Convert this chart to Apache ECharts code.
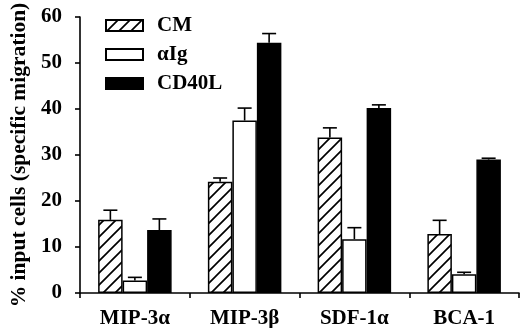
<!DOCTYPE html>
<html>
<head>
<meta charset="utf-8">
<script src="https://cdn.jsdelivr.net/npm/echarts@6/dist/echarts.min.js"></script>
<style>
  html, body { margin: 0; padding: 0; background: #fff; }
  #chart { width: 520px; height: 328px; }
</style>
</head>
<body>
<div id="chart"></div>
<script>
// categories and values
var categories = ['MIP-3α', 'MIP-3β', 'SDF-1α', 'BCA-1'];
var seriesNames = ['CM', 'αIg', 'CD40L'];
var cmValues = [15.9, 24.2, 33.8, 12.8];
var cmErrTop = [18.0, 25.0, 35.9, 15.8];
var igValues = [2.7, 37.5, 11.7, 4.1];
var igErrTop = [3.4, 40.2, 14.2, 4.5];
var cdValues = [13.7, 54.4, 40.2, 29.0];
var cdErrTop = [16.1, 56.4, 40.9, 29.3];
var yTicks = [0, 10, 20, 30, 40, 50, 60];

var FONT = '"Liberation Serif", "DejaVu Serif", serif';
var BAR_W = 24.5;

// diagonal hatch for CM
function makeHatch() {
  var s = 12;
  var c = document.createElement('canvas');
  c.width = s; c.height = s;
  var ctx = c.getContext('2d');
  ctx.fillStyle = '#fff';
  ctx.fillRect(0, 0, s, s);
  ctx.strokeStyle = '#000';
  ctx.lineWidth = 1.7;
  ctx.beginPath();
  ctx.moveTo(0, s); ctx.lineTo(s, 0);
  ctx.moveTo(-2, 2); ctx.lineTo(2, -2);
  ctx.moveTo(s - 2, s + 2); ctx.lineTo(s + 2, s - 2);
  ctx.stroke();
  return c;
}
var hatch = { image: makeHatch(), repeat: 'repeat' };

function errData(values, tops) {
  return values.map(function (v, i) { return [i, tops[i], v]; });
}

// error bar: stem from bar top up to error top, plus a cap
function errRenderer(offset) {
  return function (params, api) {
    var x = api.coord([api.value(0), 0])[0] + offset;
    var yTop = api.coord([api.value(0), api.value(1)])[1];
    var yBar = api.coord([api.value(0), api.value(2)])[1];
    var style = { stroke: '#000', lineWidth: 1.6 };
    return {
      type: 'group',
      children: [
        { type: 'line', shape: { x1: x, y1: yBar, x2: x, y2: yTop }, style: style },
        { type: 'line', shape: { x1: x - 7, y1: yTop, x2: x + 7, y2: yTop }, style: style }
      ]
    };
  };
}

var barBase = {
  type: 'bar',
  barWidth: BAR_W,
  barGap: '0%',
  animation: false
};

var chart = echarts.init(document.getElementById('chart'));
chart.setOption({
  animation: false,
  grid: { left: 80, right: 1, top: 17, bottom: 35, outerBoundsMode: 'none', containLabel: false },
  legend: {
    orient: 'vertical',
    left: 100,
    top: 10,
    itemWidth: 37,
    itemHeight: 11,
    itemGap: 8,
    icon: 'rect',
    data: seriesNames,
    textStyle: { fontFamily: FONT, fontWeight: 'bold', fontSize: 21, color: '#000', padding: [0, 0, 0, 9] }
  },
  xAxis: {
    type: 'category',
    data: categories,
    axisLine: { lineStyle: { color: '#000', width: 1.6 } },
    axisTick: { show: true, length: 5, lineStyle: { color: '#000', width: 1.6 } },
    axisLabel: { fontFamily: FONT, fontWeight: 'bold', fontSize: 21, color: '#000', margin: 15 }
  },
  yAxis: {
    type: 'value',
    min: yTicks[0],
    max: yTicks[yTicks.length - 1],
    interval: 10,
    name: '% input cells (specific migration)',
    nameLocation: 'middle',
    nameRotate: 90,
    nameGap: 46,
    nameTextStyle: { fontFamily: FONT, fontWeight: 'bold', fontSize: 21.5, color: '#000' },
    splitLine: { show: false },
    axisLine: { show: true, lineStyle: { color: '#000', width: 1.6 } },
    axisTick: { show: true, length: 5, lineStyle: { color: '#000', width: 1.6 } },
    axisLabel: { fontFamily: FONT, fontWeight: 'bold', fontSize: 21, color: '#000', margin: 18 }
  },
  series: [
    Object.assign({}, barBase, {
      name: seriesNames[0], data: cmValues,
      itemStyle: { color: hatch, borderColor: '#000', borderWidth: 1.5 }
    }),
    Object.assign({}, barBase, {
      name: seriesNames[1], data: igValues,
      itemStyle: { color: '#fff', borderColor: '#000', borderWidth: 1.5 }
    }),
    Object.assign({}, barBase, {
      name: seriesNames[2], data: cdValues,
      itemStyle: { color: '#000', borderColor: '#000', borderWidth: 1.5 }
    }),
    { type: 'custom', renderItem: errRenderer(-BAR_W), data: errData(cmValues, cmErrTop), z: 3 },
    { type: 'custom', renderItem: errRenderer(0), data: errData(igValues, igErrTop), z: 3 },
    { type: 'custom', renderItem: errRenderer(BAR_W), data: errData(cdValues, cdErrTop), z: 3 }
  ]
});
</script>
</body>
</html>
